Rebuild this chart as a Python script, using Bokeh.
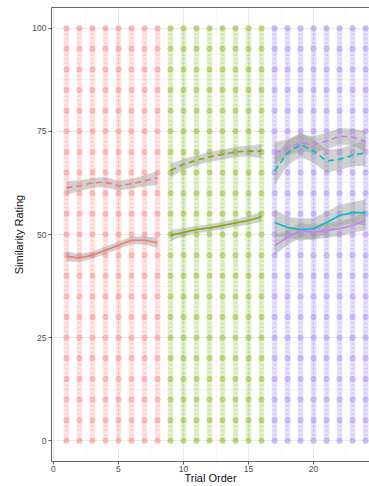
from bokeh.plotting import figure
from bokeh.models import Range1d, LinearAxis, FixedTicker, ColumnDataSource
from bokeh.embed import file_html
from bokeh.resources import INLINE

# ---------------- data ----------------
red_trials = [1, 2, 3, 4, 5, 6, 7, 8]
green_trials = [9, 10, 11, 12, 13, 14, 15, 16]
blue_trials = [17, 18, 19, 20, 21, 22, 23, 24]

# possible rating values on the 0-100 slider, and the ones chosen most often
rating_scale = list(range(0, 101))
common_ratings = [0, 5, 10, 15, 20, 25, 30, 35, 40, 45, 50, 55, 60, 65, 70, 75, 80, 85, 90, 95, 100]

# smoothed means (dashed = one condition, solid = other)
red_dashed = [61.3, 61.8, 62.5, 62.7, 61.8, 62.3, 63.0, 63.7]
red_dashed_se = [1.6, 1.3, 1.2, 1.2, 1.2, 1.2, 1.3, 1.7]
red_solid = [44.7, 44.3, 45.0, 46.2, 47.4, 48.6, 48.6, 48.0]
red_solid_se = [1.2, 1.0, 0.9, 0.9, 0.9, 0.9, 1.0, 1.3]

green_dashed = [65.5, 67.0, 68.0, 68.8, 69.4, 70.0, 70.2, 70.2]
green_dashed_se = [1.7, 1.3, 1.2, 1.2, 1.2, 1.2, 1.3, 1.7]
green_solid = [49.8, 50.5, 51.2, 51.6, 52.2, 52.8, 53.4, 54.3]
green_solid_se = [1.3, 1.0, 0.9, 0.9, 0.9, 0.9, 1.0, 1.3]

cyan_dashed = [65.4, 69.8, 71.8, 70.2, 67.8, 68.2, 69.2, 69.8]
cyan_dashed_se = [3.5, 3.0, 3.0, 2.8, 2.8, 2.6, 2.6, 3.2]
purple_dashed = [69.8, 71.0, 72.2, 71.8, 72.6, 73.8, 73.6, 72.6]
purple_dashed_se = [2.6, 2.0, 2.0, 2.0, 2.0, 2.0, 2.0, 2.6]
cyan_solid = [52.9, 51.7, 51.2, 51.4, 52.9, 54.6, 55.3, 55.3]
cyan_solid_se = [3.2, 2.6, 2.6, 2.6, 2.6, 2.6, 2.6, 3.2]
purple_solid = [47.3, 49.3, 51.0, 50.5, 51.0, 51.4, 52.2, 53.4]
purple_solid_se = [2.4, 1.8, 1.8, 1.8, 1.8, 1.8, 1.8, 2.4]

x_ticks = [0, 5, 10, 15, 20]
x_minor = [2.5, 7.5, 12.5, 17.5, 22.5]
y_ticks = [0, 25, 50, 75, 100]
y_minor = [12.5, 37.5, 62.5, 87.5]

RED = "#F8766D"
GREEN = "#7CAE00"
CYAN = "#00BFC4"
PURPLE = "#C77CFF"

# ---------------- figure ----------------
p = figure(width=369, height=486, output_backend="svg", toolbar_location=None,
           x_range=Range1d(-0.15, 24.3), y_range=Range1d(-5, 105),
           min_border_left=51, min_border_top=7, min_border_bottom=25, min_border_right=0,
           x_axis_label="Trial Order", y_axis_label="Similarity Rating")
p.outline_line_color = None
p.background_fill_color = "white"
p.border_fill_color = "white"

for g, ticks, minor in ((p.xgrid, x_ticks, x_minor), (p.ygrid, y_ticks, y_minor)):
    g.ticker = FixedTicker(ticks=ticks, minor_ticks=minor)
    g.grid_line_color = "#EBEBEB"
    g.grid_line_width = 1
    g.minor_grid_line_color = "#F2F2F2"
    g.minor_grid_line_width = 0.6

for ax, ticks in ((p.xaxis[0], x_ticks), (p.yaxis[0], y_ticks)):
    ax.ticker = FixedTicker(ticks=ticks)
    ax.axis_line_color = "#666666"
    ax.axis_line_width = 1
    ax.major_tick_line_color = "#555555"
    ax.major_tick_out = 3
    ax.major_tick_in = 0
    ax.minor_tick_line_color = None
    ax.major_label_text_font = "Liberation Sans"
    ax.major_label_text_font_size = "8.5px"
    ax.major_label_text_color = "#4D4D4D"
    ax.axis_label_text_font = "Liberation Sans"
    ax.axis_label_text_font_size = "11px"
    ax.axis_label_text_font_style = "normal"
    ax.axis_label_text_color = "#111111"

p.xaxis[0].major_label_standoff = 1
p.xaxis[0].axis_label_standoff = -3
p.yaxis[0].major_label_standoff = 2
p.yaxis[0].axis_label_standoff = 4

# top border
top = LinearAxis(ticker=FixedTicker(ticks=[]), axis_line_color="#666666",
                 major_tick_line_color=None, minor_tick_line_color=None,
                 major_label_text_font_size="0px", major_label_standoff=0)
p.add_layout(top, "above")


def point_source(trials, scale):
    xs, ys, al = [], [], []
    for t in trials:
        for r in rating_scale:
            xs.append(t)
            ys.append(r)
            al.append((0.5 if r in common_ratings else 0.19) * scale)
    return ColumnDataSource(dict(x=xs, y=ys, a=al))


for trials, col, sc in ((red_trials, RED, 1.0), (green_trials, GREEN, 1.0),
                        (blue_trials, CYAN, 0.35), (blue_trials, PURPLE, 1.0)):
    p.scatter("x", "y", source=point_source(trials, sc), size=6, fill_color=col,
              fill_alpha="a", line_color=None)

series = [
    (red_trials, red_dashed, red_dashed_se, RED, "dashed"),
    (red_trials, red_solid, red_solid_se, RED, "solid"),
    (green_trials, green_dashed, green_dashed_se, GREEN, "dashed"),
    (green_trials, green_solid, green_solid_se, GREEN, "solid"),
    (blue_trials, cyan_dashed, cyan_dashed_se, CYAN, "dashed"),
    (blue_trials, purple_dashed, purple_dashed_se, PURPLE, "dashed"),
    (blue_trials, cyan_solid, cyan_solid_se, CYAN, "solid"),
    (blue_trials, purple_solid, purple_solid_se, PURPLE, "solid"),
]

for xs, ys, se, col, dash in series:
    lo = [y - s for y, s in zip(ys, se)]
    hi = [y + s for y, s in zip(ys, se)]
    p.varea(x=xs, y1=lo, y2=hi, fill_color="#999999", fill_alpha=0.45)

for xs, ys, se, col, dash in series:
    p.line(xs, ys, line_color=col, line_width=1.6,
           line_dash="6 4" if dash == "dashed" else "solid")

open("out.html", "w").write(file_html(p, INLINE))
